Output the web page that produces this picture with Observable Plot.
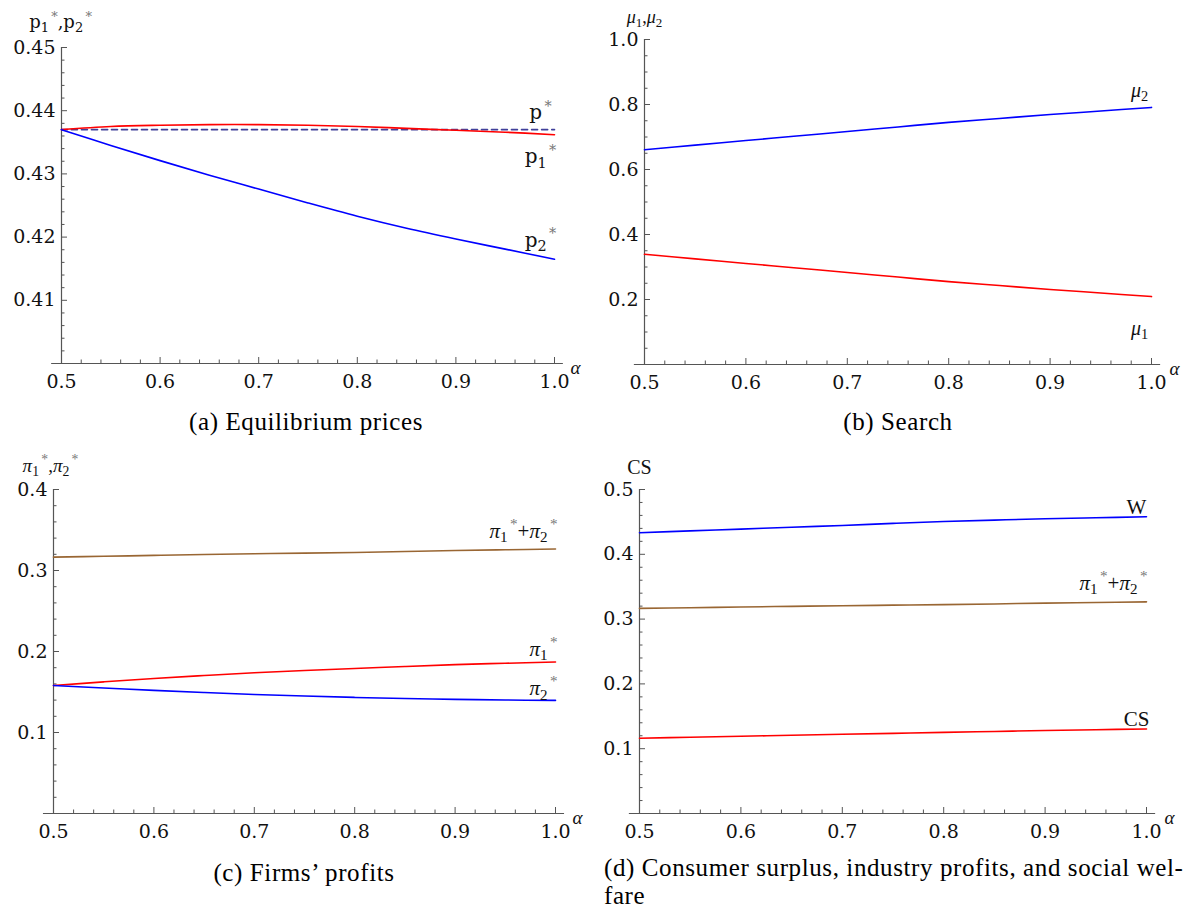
<!DOCTYPE html>
<html><head><meta charset="utf-8">
<script src="https://cdn.jsdelivr.net/npm/d3@7"></script>
<script src="https://cdn.jsdelivr.net/npm/@observablehq/plot@0.6"></script>
<style>
body{margin:0;background:#fff;width:1184px;height:910px;position:relative;overflow:hidden}
.panel{position:absolute}
.cap{position:absolute;font-family:"Liberation Serif",serif;font-size:25px;letter-spacing:0.6px;color:#000;white-space:nowrap;line-height:30px}
</style></head><body>
<div id="pa" class="panel" style="left:0;top:0"></div>
<div id="pb" class="panel" style="left:592px;top:0"></div>
<div id="pc" class="panel" style="left:0;top:440px"></div>
<div id="pd" class="panel" style="left:592px;top:440px"></div>
<div class="cap" style="left:306px;top:407px;transform:translateX(-50%)">(a) Equilibrium prices</div>
<div class="cap" style="left:898px;top:407px;transform:translateX(-50%)">(b) Search</div>
<div class="cap" style="left:304px;top:858px;transform:translateX(-50%)">(c) Firms’ profits</div>
<div class="cap" style="left:604px;top:854px;line-height:28px">(d) Consumer surplus, industry profits, and social wel-<br>fare</div>
<script>
// ---- data ----
const alpha = [0.5, 0.55, 0.6, 0.65, 0.7, 0.75, 0.8, 0.85, 0.9, 0.95, 1.0];
// (a) equilibrium prices
const pStar = [0.4370, 0.4370, 0.4370, 0.4370, 0.4370, 0.4370, 0.4370, 0.4370, 0.4370, 0.4370, 0.4370];
const p1 = [0.4370, 0.4375, 0.4377, 0.4378, 0.4378, 0.4377, 0.4375, 0.4372, 0.4369, 0.4366, 0.4362];
const p2 = [0.4370, 0.4345, 0.4321, 0.4298, 0.4276, 0.4254, 0.4233, 0.4214, 0.4197, 0.4181, 0.4165];
// (b) search
const mu1 = [0.339, 0.325, 0.311, 0.297, 0.283, 0.269, 0.255, 0.243, 0.231, 0.220, 0.209];
const mu2 = [0.661, 0.675, 0.689, 0.703, 0.717, 0.731, 0.745, 0.757, 0.769, 0.780, 0.791];
// (c) profits
const pi1 = [0.158, 0.1625, 0.1667, 0.1703, 0.1737, 0.1765, 0.179, 0.1815, 0.1838, 0.1855, 0.187];
const pi2 = [0.158, 0.155, 0.152, 0.1494, 0.147, 0.145, 0.1433, 0.1419, 0.1409, 0.1401, 0.1396];
const piSum = [0.3165, 0.3175, 0.3187, 0.3197, 0.3207, 0.3215, 0.3223, 0.3234, 0.3247, 0.3256, 0.3266];
// (d) welfare
const W = [0.4332, 0.4361, 0.4389, 0.4418, 0.4445, 0.4477, 0.4507, 0.4528, 0.4548, 0.4564, 0.4579];
const CS = [0.1162, 0.1177, 0.1192, 0.1207, 0.1222, 0.1237, 0.1252, 0.1266, 0.1280, 0.1293, 0.1305];
// ticks
const xMajor = [0.5, 0.6, 0.7, 0.8, 0.9, 1.0];
const xMinor = [0.52,0.54,0.56,0.58,0.62,0.64,0.66,0.68,0.72,0.74,0.76,0.78,0.82,0.84,0.86,0.88,0.92,0.94,0.96,0.98];
const yMajorA = [0.40, 0.41, 0.42, 0.43, 0.44, 0.45];
const yMajorB = [0, 0.2, 0.4, 0.6, 0.8, 1.0];
const yMajorC = [0, 0.1, 0.2, 0.3, 0.4];
const yMajorD = [0, 0.1, 0.2, 0.3, 0.4, 0.5];

const RED = "#ff0000", BLUE = "#0000ff", BROWN = "#996633", DASH = "#40409a", AXIS = "#555";
const SERIF = "DejaVu Serif";
const TSERIF = "Liberation Serif";

function table(vals) { return alpha.map((a, i) => ({a, v: vals[i]})); }
function minors(major, n) {
  const out = [];
  for (let i = 0; i < major.length - 1; i++) {
    const step = (major[i+1] - major[i]) / n;
    for (let k = 1; k < n; k++) out.push(+(major[i] + k*step).toFixed(6));
  }
  return out;
}

function rich(svg) {
  d3.select(svg).selectAll("text").each(function() {
    const t = this.textContent;
    if (!/[_^πμ]/.test(t)) return;
    const fs = parseFloat(getComputedStyle(this).fontSize) || 16;
    this.textContent = "";
    let cur = 0, i = 0;
    while (i < t.length) {
      let ch = t[i], mode = 0;
      if (ch === "_") { mode = 1; ch = t[++i]; }
      else if (ch === "^") { mode = 2; ch = t[++i]; }
      i++;
      const target = mode === 1 ? fs*0.22 : mode === 2 ? -fs*0.42 : 0;
      const ts = document.createElementNS("http://www.w3.org/2000/svg", "tspan");
      ts.setAttribute("dy", (target - cur).toFixed(2)); cur = target;
      if (mode) ts.setAttribute("font-size", (fs*0.72).toFixed(1));
      if (mode === 2) { ts.setAttribute("fill", "#777"); ts.setAttribute("dx", (fs*0.12).toFixed(1)); }
      if (/[πμα]/.test(ch)) ts.setAttribute("font-style", "italic");
      ts.textContent = ch;
      this.appendChild(ts);
    }
  });
}

function panel(el, cfg) {
  const {margins, yDomain, yMajor, yMinorN, yFmt, series, labels, yTitle, yTitleDx, alphaDx} = cfg;
  const yMinor = minors(yMajor, yMinorN);
  const yLab = yMajor.filter(v => v !== yDomain[0]);
  const marks = [
    Plot.ruleY([yDomain[0]], {x1: 0.49, x2: 1.009, stroke: AXIS, strokeWidth: 1.2}),
    Plot.ruleX([0.5], {y1: yDomain[0], y2: yDomain[1], stroke: AXIS, strokeWidth: 1.2}),
    Plot.axisY(yMajor, {tickSize: -6, text: null, stroke: AXIS, label: null}),
    Plot.axisY(yMinor, {tickSize: -3.5, text: null, stroke: AXIS, label: null}),
    Plot.axisY(yLab, {tickSize: 0, tickPadding: 6, tickFormat: yFmt, fontSize: 19, fontFamily: SERIF, fill: "#111", label: null}),
    Plot.axisX(xMajor, {tickSize: -6, text: null, stroke: AXIS, label: null}),
    Plot.axisX(xMinor, {tickSize: -3.5, text: null, stroke: AXIS, label: null}),
    Plot.axisX(xMajor, {tickSize: 0, tickPadding: 11, tickFormat: d3.format(".1f"), fontSize: 19, fontFamily: SERIF, fill: "#111", label: null}),
    Plot.text([yTitle], {frameAnchor: "top-left", lineAnchor: "middle", text: d => d, dx: yTitleDx, dy: cfg.yTitleDy || -24, textAnchor: "middle", fontSize: cfg.yTitleSize || 18, fontFamily: cfg.yTitleFont || SERIF, fill: "#111"}),
    Plot.text(["α"], {frameAnchor: "bottom-right", lineAnchor: "middle", text: d => d, dx: alphaDx, dy: 4, fontSize: 19, fontStyle: "italic", fontFamily: TSERIF, fill: "#111"})
  ];
  for (const s of series) {
    marks.push(Plot.line(table(s.vals), {x: "a", y: "v", stroke: s.color, strokeWidth: 1.6, strokeDasharray: s.dash, curve: "catmull-rom"}));
  }
  for (const l of labels) {
    marks.push(Plot.text(table(l.vals), Plot.selectLast({x: "a", y: "v", text: () => l.text, dx: l.dx, dy: l.dy, textAnchor: "middle", fontSize: l.size || 20, fontFamily: l.font || TSERIF, fill: "#111"})));
  }
  const svg = Plot.plot({
    width: 592, height: 400,
    marginLeft: margins[0], marginRight: margins[1], marginTop: margins[2], marginBottom: margins[3],
    x: {domain: [0.5, 1.0], axis: null},
    y: {domain: yDomain, axis: null},
    style: {background: "transparent", overflow: "visible", fontFamily: SERIF},
    marks
  });
  document.getElementById(el).appendChild(svg);
  rich(svg);
}

panel("pa", {
  margins: [61, 38, 47, 37], yDomain: [0.40, 0.45], yMajor: yMajorA, yMinorN: 5, yFmt: d3.format(".2f"),
  yTitle: "p_1^*,p_2^*", yTitleDx: -1, alphaDx: 26, yTitleDy: -25,
  series: [
    {vals: pStar, color: DASH, dash: "6,4"},
    {vals: p1, color: RED},
    {vals: p2, color: BLUE}
  ],
  labels: [
    {vals: pStar, text: "p^*", dx: -14, dy: -17, font: SERIF, size: 20},
    {vals: p1, text: "p_1^*", dx: -14, dy: 22, font: SERIF, size: 20},
    {vals: p2, text: "p_2^*", dx: -14, dy: -19, font: SERIF, size: 20}
  ]
});

panel("pb", {
  margins: [52, 33, 39, 36], yDomain: [0, 1], yMajor: yMajorB, yMinorN: 4, yFmt: d3.format(".1f"),
  yTitle: "μ_1,μ_2", yTitleDx: 0, alphaDx: 28, yTitleFont: TSERIF, yTitleSize: 18, yTitleDy: -22,
  series: [
    {vals: mu2, color: BLUE},
    {vals: mu1, color: RED}
  ],
  labels: [
    {vals: mu2, text: "μ_2", dx: -12, dy: -17},
    {vals: mu1, text: "μ_1", dx: -12, dy: 32}
  ]
});

panel("pc", {
  margins: [53, 37, 49, 27], yDomain: [0, 0.4], yMajor: yMajorC, yMinorN: 5, yFmt: d3.format(".1f"),
  yTitle: "π_1^*,π_2^*", yTitleDx: -3, alphaDx: 27, yTitleFont: TSERIF, yTitleSize: 19, yTitleDy: -24,
  series: [
    {vals: piSum, color: BROWN},
    {vals: pi1, color: RED},
    {vals: pi2, color: BLUE}
  ],
  labels: [
    {vals: piSum, text: "π_1^*+π_2^*", dx: -32, dy: -18, size: 21},
    {vals: pi1, text: "π_1^*", dx: -12, dy: -13, size: 21},
    {vals: pi2, text: "π_2^*", dx: -12, dy: -12, size: 21}
  ]
});

panel("pd", {
  margins: [47, 38, 49, 27], yDomain: [0, 0.5], yMajor: yMajorD, yMinorN: 5, yFmt: d3.format(".1f"),
  yTitle: "CS", yTitleDx: 0, alphaDx: 28, yTitleFont: TSERIF, yTitleSize: 20, yTitleDy: -22,
  series: [
    {vals: W, color: BLUE},
    {vals: piSum, color: BROWN},
    {vals: CS, color: RED}
  ],
  labels: [
    {vals: W, text: "W", dx: -10, dy: -10, size: 21},
    {vals: piSum, text: "π_1^*+π_2^*", dx: -33, dy: -19, size: 21},
    {vals: CS, text: "CS", dx: -10, dy: -10, size: 21}
  ]
});
</script>
</body></html>
